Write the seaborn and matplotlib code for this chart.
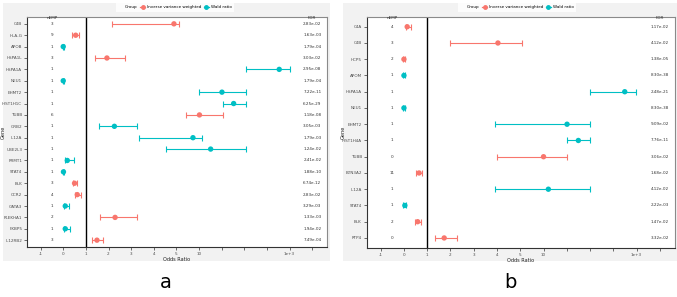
import numpy as np
import pandas as pd
import matplotlib
matplotlib.use("Agg")
import matplotlib.pyplot as plt
import seaborn as sns
from matplotlib.lines import Line2D
from matplotlib.patches import FancyBboxPatch

# ---------------- data: panel a ----------------
genes_a = ["C4B", "HLA-G", "APOB", "HSPA1L", "HSPA1A", "NEU1", "EHMT2", "HIST1H1C",
           "TUBB", "GRB2", "IL12A", "UBE2L3", "PRMT1", "STAT4", "BLK", "CCR2",
           "GATA3", "PLEKHA1", "FKBP5", "IL12RB2"]
group_a = ["IVW", "IVW", "Wald", "IVW", "Wald", "Wald", "Wald", "Wald",
           "IVW", "Wald", "Wald", "Wald", "Wald", "Wald", "IVW", "IVW",
           "Wald", "IVW", "Wald", "IVW"]
or_a = [4.89, 0.55, 0.0, 1.93, 589, 0.0, 32, 58,
        10.2, 2.26, 8.65, 18, 0.18, 0.01, 0.50, 0.62,
        0.09, 2.29, 0.09, 1.49]
lo_a = [2.15, 0.40, -0.03, 1.39, 107, -0.03, 10.2, 33,
        7.15, 1.58, 3.35, 4.53, 0.09, -0.02, 0.41, 0.50,
        0.03, 1.64, 0.03, 1.28]
hi_a = [5.6, 0.69, 0.03, 2.73, 1035, 0.03, 106, 106,
        33, 3.25, 11.4, 106, 0.46, 0.04, 0.59, 0.80,
        0.25, 3.25, 0.29, 1.77]
nemp_a = [3, 9, 1, 3, 1, 1, 1, 1, 6, 1, 1, 1, 1, 1, 3, 4, 1, 2, 1, 3]
fdr_a = ["2.83e-02", "1.63e-03", "1.79e-04", "3.03e-02", "2.95e-08", "1.79e-04",
         "7.22e-11", "6.25e-29", "1.18e-08", "3.05e-03", "1.79e-03", "1.24e-02",
         "2.41e-02", "1.88e-10", "6.74e-12", "2.83e-02", "3.29e-03", "1.33e-03",
         "1.94e-02", "7.49e-04"]

# ---------------- data: panel b ----------------
genes_b = ["C4A", "C4B", "HCP5", "APOM", "HSPA1A", "NEU1", "EHMT2", "HIST1H4A",
           "TUBB", "BTN3A2", "IL12A", "STAT4", "BLK", "RTP4"]
group_b = ["IVW", "IVW", "IVW", "Wald", "Wald", "Wald", "Wald", "Wald",
           "IVW", "IVW", "Wald", "Wald", "IVW", "IVW"]
or_b = [0.14, 4.04, 0.0, 0.0, 556, 0.0, 32, 56, 10, 0.65, 12.7, 0.04, 0.59, 1.73]
lo_b = [0.07, 1.96, -0.03, -0.03, 99, -0.03, 3.92, 32, 4.02, 0.54, 3.91, -0.02, 0.48, 1.35]
hi_b = [0.32, 5.45, 0.04, 0.03, 977, 0.03, 99, 99, 32, 0.79, 99, 0.08, 0.75, 2.26]
nemp_b = [4, 3, 2, 1, 1, 1, 1, 1, 0, 11, 1, 1, 2, 0]
fdr_b = ["1.17e-02", "4.12e-02", "1.38e-05", "8.30e-38", "2.48e-21", "8.30e-38",
         "9.09e-02", "7.76e-11", "3.06e-02", "1.68e-02", "4.12e-02", "2.22e-03",
         "1.47e-02", "3.32e-02"]

tick_vals = [-1, 0, 1, 2, 3, 4, 5, 10, 31.62, 100, 316.2, 1000, 3162]
tick_labels = ["-1", "0", "1", "2", "3", "4", "5", "10", "", "", "", "1e+3", ""]
group_names = {"IVW": "Inverse variance weighted", "Wald": "Wald ratio"}
palette = {"Inverse variance weighted": "#F8766D", "Wald ratio": "#00BFC4"}

# ---------------- scale ----------------
lin_v = np.array([-3.0, -1, 0, 1, 2, 3, 4, 5, 10])
lin_p = np.array([-3.0, -1, 0, 1, 2, 3, 4, 5, 6])


def fwd(x):
    x = np.asarray(x, dtype=float)
    lo = np.interp(x, lin_v, lin_p)
    lo = np.where(x < -3, x, lo)
    hi = 6 + 2 * np.log10(np.maximum(x, 1e-9) / 10.0)
    return np.where(x <= 10, lo, hi)


def inv(p):
    p = np.asarray(p, dtype=float)
    lo = np.interp(p, lin_p, lin_v)
    lo = np.where(p < -3, p, lo)
    hi = 10 * 10 ** ((np.minimum(p, 40) - 6) / 2.0)
    return np.where(p <= 6, lo, hi)


W, H = 677, 297
fig = plt.figure(figsize=(W / 100, H / 100), dpi=100)
fig.patch.set_facecolor("white")

# gray panel backgrounds
for (x0, x1) in [(3, 330), (343, 677)]:
    fig.patches.append(FancyBboxPatch((x0 / W, 1 - 261 / H), (x1 - x0) / W, 258 / H,
                                      boxstyle="square,pad=0", transform=fig.transFigure,
                                      facecolor="#f2f2f2", edgecolor="none", zorder=-10))


def panel(rect, genes, groups, orv, lov, hiv, nemp, fdr, legx, ylab_px):
    ax = fig.add_axes(rect)
    ax.set_facecolor("white")
    ax.set_xscale("function", functions=(fwd, inv))
    n = len(genes)
    df = pd.DataFrame({
        "Gene": genes,
        "row": np.arange(n),
        "OR": orv,
        "lo": lov,
        "hi": hiv,
        "Group": [group_names[g] for g in groups],
    })
    for gname, sub in df.groupby("Group"):
        ax.errorbar(sub["OR"], sub["row"],
                    xerr=[sub["OR"] - sub["lo"], sub["hi"] - sub["OR"]],
                    fmt="none", ecolor=palette[gname], elinewidth=0.8,
                    capsize=2.4, capthick=0.8, zorder=2)
    sns.scatterplot(data=df, x="OR", y="row", hue="Group", palette=palette,
                    s=15, edgecolor="none", legend=False, ax=ax, zorder=3)
    ax.axvline(1, color="black", lw=1.0, zorder=1)

    ax.set_xlim(-1.6, inv(11.65))
    ax.set_ylim(n - 1 + 0.6, -0.6)
    ax.set_xticks(tick_vals)
    ax.set_xticklabels(tick_labels)
    ax.set_yticks(np.arange(n))
    ax.set_yticklabels(genes)
    ax.tick_params(axis="both", labelsize=3, length=2, width=0.5, pad=1.5,
                   color="#333333", labelcolor="#4d4d4d")
    ax.set_xlabel("Odds Ratio", fontsize=3.6, labelpad=1, color="#222222")
    ax.set_ylabel("Gene", fontsize=3.6, color="#222222")
    x_ax0 = rect[0] * W
    width_px = rect[2] * W
    ax.yaxis.set_label_coords((ylab_px - x_ax0) / width_px, 0.5)
    ax.grid(False)
    for s in ["left", "bottom"]:
        ax.spines[s].set_color("#333333")
        ax.spines[s].set_linewidth(0.8)
    for s in ["top", "right"]:
        ax.spines[s].set_color("#8a8a8a")
        ax.spines[s].set_linewidth(0.8)

    for i in range(n):
        ax.text(-0.5, i, str(nemp[i]), ha="center", va="center", fontsize=3, color="#333333")
        ax.text(3162, i, fdr[i], ha="center", va="center", fontsize=3, color="#333333")
    ax.text(-0.5, -0.55, "nEMP", ha="center", va="center", fontsize=3, color="#333333")
    ax.text(3162, -0.55, "FDR", ha="center", va="center", fontsize=3, color="#333333")

    handles = [Line2D([], [], alpha=0, label="Group")]
    for gname, col in palette.items():
        handles.append(Line2D([0], [0], color=col, marker="o", markersize=2.5, lw=0.9,
                              label=gname))
    leg = fig.legend(handles=handles, loc="center", bbox_to_anchor=(legx / W, 1 - 7 / H),
                     bbox_transform=fig.transFigure, ncol=3, fontsize=3, frameon=True,
                     facecolor="white", edgecolor="none", fancybox=False,
                     handlelength=1.2, handletextpad=0.4, columnspacing=0.6,
                     borderpad=0.6)
    leg.get_frame().set_linewidth(0)
    return ax


panel([27 / W, 1 - 247 / H, 300 / W, 230 / H], genes_a, group_a, or_a, lo_a, hi_a,
      nemp_a, fdr_a, 175, 6)
panel([366.7 / W, 1 - 247.7 / H, 308.3 / W, 230.7 / H], genes_b, group_b, or_b, lo_b, hi_b,
      nemp_b, fdr_b, 517, 346)

fig.text(166 / W, 1 - 283 / H, "a", ha="center", va="center", fontsize=14, color="black")
fig.text(510 / W, 1 - 283 / H, "b", ha="center", va="center", fontsize=14, color="black")

fig.savefig("out.png", dpi=100, facecolor="white")
